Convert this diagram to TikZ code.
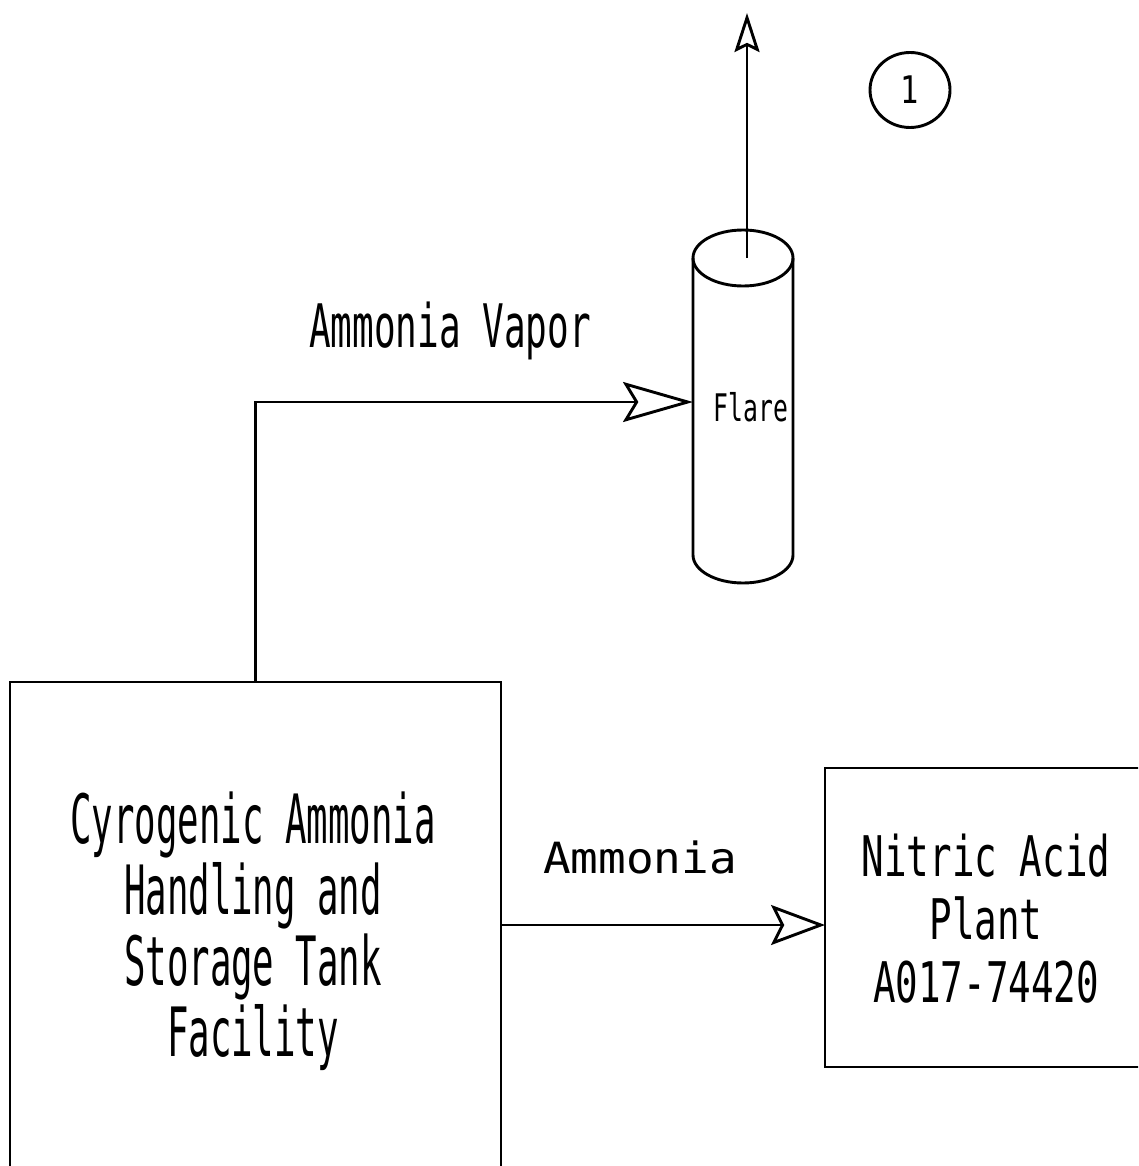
\documentclass[tikz,border=0pt]{standalone}
\usepackage{fontspec}
\newfontfamily\plotfont{DejaVu Sans Mono}
\usetikzlibrary{arrows.meta,shapes.geometric}
\tikzset{
  lw/.style={line width=2.9pt},
  boxnode/.style={draw,lw,inner sep=0pt,outer sep=0pt},
  bigarrow/.style={lw,-{Stealth[length=70pt,width=40pt,inset=12pt,fill=white,line width=2.9pt]}},
  midarrow/.style={lw,-{Stealth[length=54pt,width=40pt,inset=10pt,fill=white,line width=2.9pt]}},
  smallarrow/.style={lw,-{Stealth[length=39pt,width=25pt,inset=6pt,fill=white,line width=2.9pt]}},
  txt/.style={inner sep=0pt,outer sep=0pt,align=center},
}
\begin{document}
\begin{tikzpicture}[x=1pt,y=-1pt]
\useasboundingbox (0,0) rectangle (1138,1166);
\clip (0,0) rectangle (1138,1166);
\fill[white] (0,0) rectangle (1138,1166);

% boxes
\node[boxnode,minimum width=491pt,minimum height=520pt] (tank) at (255.5,942) {};
\node[txt,xscale=0.525,font={\plotfont\fontsize{68}{71}\selectfont}] (tanktext) at (253,931)
  {Cyrogenic Ammonia\\Handling and\\Storage Tank\\Facility};

\node[boxnode,minimum width=340pt,minimum height=299pt] (plant) at (995,917.5) {};
\node[txt,xscale=0.67,font={\plotfont\fontsize{56}{63}\selectfont}] (planttext) at (986,918.5)
  {Nitric Acid\\Plant\\A017-74420};

% flare cylinder
\node[inner sep=0pt,outer sep=0pt,minimum width=100pt,minimum height=325pt] (flare) at (743,420.5) {};
\draw[lw] (693,258) -- (693,555) arc[start angle=180,end angle=0,x radius=50,y radius=28] -- (793,258);
\draw[lw] (743,258) ellipse[x radius=50,y radius=28];
\node[txt,xscale=0.65,font={\plotfont\fontsize{38}{40}\selectfont},anchor=base] (flaretext) at (751,421) {Flare};

% circle 1
\node[draw,lw,ellipse,minimum width=80pt,minimum height=75pt,inner sep=0pt,font={\plotfont\fontsize{38}{40}\selectfont}] (one) at (910,90) {\scalebox{0.8}[1]{1}};

% connectors
\coordinate (flarein) at (693,402);
\coordinate (stacktop) at (747,258);
\coordinate (stackout) at (747,13);
\coordinate (aline) at (0,925);
\draw[bigarrow] (tank.north) |- (flarein);
\draw[smallarrow] (stacktop) -- (stackout);
\draw[midarrow] (tank.east |- aline) -- (plant.west |- aline);

% labels
\node[txt,xscale=0.6,font={\plotfont\fontsize{60}{62}\selectfont},anchor=base] (vaporlabel) at (450,347) {Ammonia Vapor};
\node[txt,xscale=1.07,font={\plotfont\fontsize{43}{45}\selectfont},anchor=base] (ammlabel) at (640,873) {Ammonia};
\end{tikzpicture}
\end{document}
